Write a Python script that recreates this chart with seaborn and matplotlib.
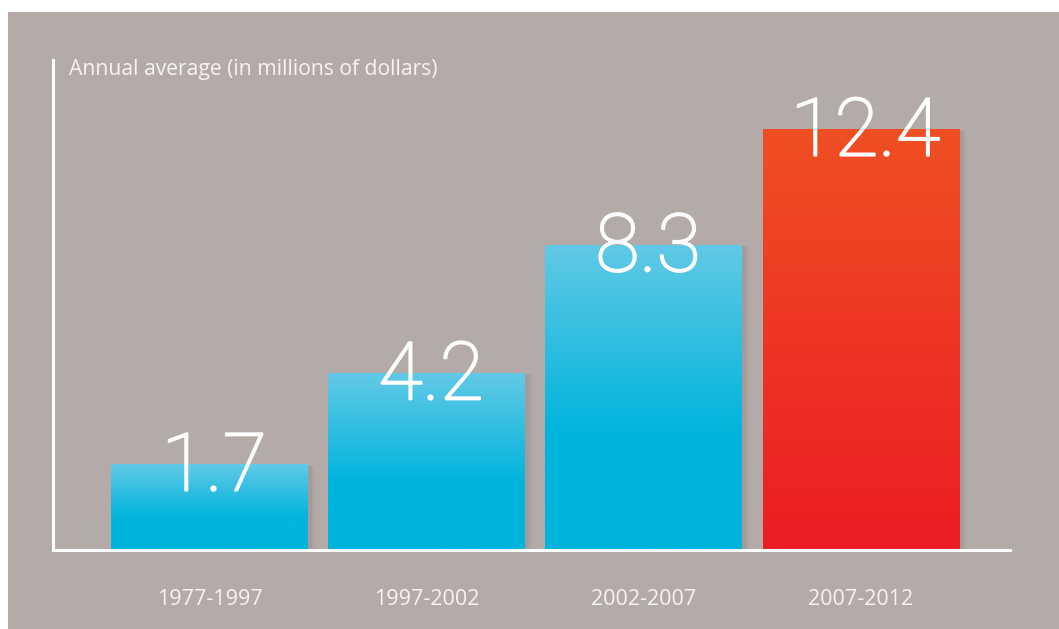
import numpy as np
import matplotlib
matplotlib.use("Agg")
import matplotlib.pyplot as plt
import matplotlib.patheffects as pe
from matplotlib.patches import Rectangle
from matplotlib.colors import to_rgb
import seaborn as sns

# ---- data ----
periods = ["1977-1997", "1997-2002", "2002-2007", "2007-2012"]
values = [1.7, 4.2, 8.3, 12.4]
value_labels = ["1.7", "4.2", "8.3", "12.4"]
ylabel = "Annual average (in millions of dollars)"

# ---- styles ----
BG = "#b4aba8"
bottom_colors = ["#00b4dc", "#00b4dc", "#00b4dc", "#ec1c24"]
top_colors = ["#62c9e6", "#62c9e6", "#62c9e6", "#f04f23"]
TEXT = "#f7f3f2"

sns.set_theme(style="white")
plt.rcParams["font.family"] = ["Open Sans", "DejaVu Sans"]

W, H = 1059, 629
fig = plt.figure(figsize=(W / 100, H / 100), dpi=100, facecolor="white")
fig.add_artist(Rectangle((8 / W, 0), 1 - 8 / W, 1 - 12 / H, transform=fig.transFigure,
                         facecolor=BG, edgecolor="none", zorder=-10))

ax = fig.add_axes([53 / W, (H - 550) / H, (1010 - 53) / W, (550 - 60) / H])
ax.set_facecolor("none")

sns.barplot(x=periods, y=values, hue=periods, palette=bottom_colors, width=0.907,
            saturation=1, linewidth=0, ax=ax, legend=False)

p = 0.8
ax.set_yscale("function", functions=(lambda v: np.power(np.clip(v, 0, None), p),
                                      lambda v: np.power(np.clip(v, 0, None), 1 / p)))
XLIM = (-0.723, 3.687)
YLIM = (0, 15.0)
ax.set_xlim(*XLIM)
ax.set_ylim(*YLIM)

for patch in ax.patches:
    patch.set_linewidth(0)
    patch.set_edgecolor("none")
    patch.set_path_effects([pe.SimplePatchShadow(offset=(3, -1), shadow_rgbFace="black", alpha=0.06),
                            pe.SimplePatchShadow(offset=(5, -1), shadow_rgbFace="black", alpha=0.03),
                            pe.Normal()])

fig.canvas.draw()
inv = ax.transAxes.inverted()
for i, patch in enumerate(ax.patches):
    bb = patch.get_window_extent()
    (x0, y0), (x1, y1) = inv.transform([[bb.x0, bb.y0], [bb.x1, bb.y1]])
    n = 256
    t = np.linspace(0, 1, n)[:, None]  # 0 top -> 1 bottom
    c_top = np.array(to_rgb(top_colors[i]))
    c_bot = np.array(to_rgb(bottom_colors[i]))
    if i < 3:
        f = np.clip(t / 0.62, 0, 1)
    else:
        f = t
    img = (c_top[None, :] * (1 - f) + c_bot[None, :] * f)[:, None, :]
    im = ax.imshow(img, extent=(x0, x1, y0, y1), transform=ax.transAxes, aspect="auto",
                   interpolation="bilinear", zorder=patch.get_zorder() + 0.1)
    im.set_clip_path(patch)

ax.set_xlim(*XLIM)
ax.set_ylim(*YLIM)

for i, (v, lab) in enumerate(zip(values, value_labels)):
    ax.annotate(lab, xy=(i, v), xytext=(3, -19), textcoords="offset points",
                ha="center", va="baseline", fontsize=58, color="white",
                family=["Roboto", "DejaVu Sans"], fontweight="light", zorder=10,
                path_effects=[pe.withStroke(linewidth=1.4, foreground="white")])

for s in ["top", "right"]:
    ax.spines[s].set_visible(False)
for s in ["left", "bottom"]:
    ax.spines[s].set_color("white")
    ax.spines[s].set_linewidth(2.2)
ax.set_yticks([])
ax.set_xlabel("")
ax.set_ylabel("")
ax.tick_params(axis="x", length=0, pad=28, labelsize=15.5, labelcolor=TEXT)

fig.text(69 / W, 1 - 69 / H, ylabel, ha="left", va="center", fontsize=15.2, color=TEXT)

fig.savefig("out.png", dpi=100, facecolor="white")
